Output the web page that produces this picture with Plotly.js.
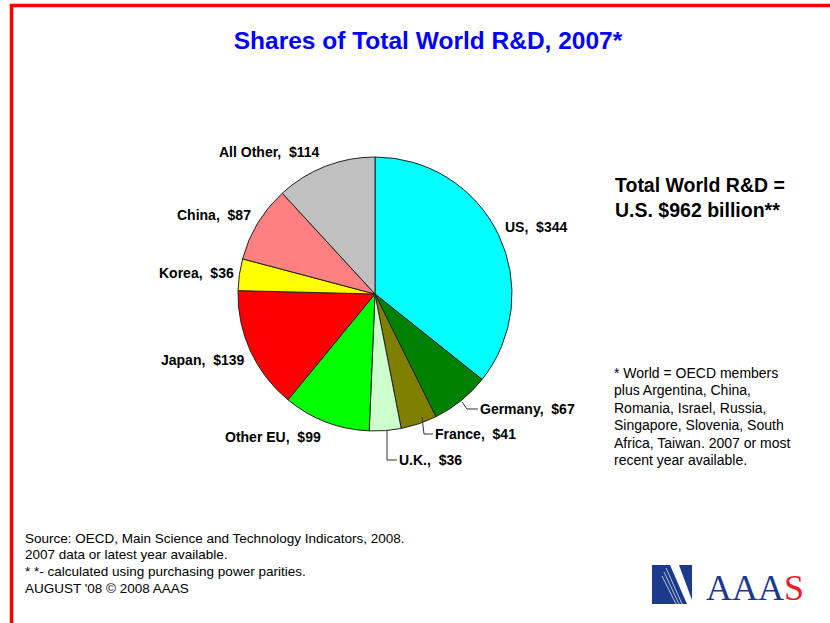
<!DOCTYPE html>
<html>
<head>
<meta charset="utf-8">
<script src="https://cdn.plot.ly/plotly-3.0.1.min.js"></script>
<style>
html,body{margin:0;padding:0;background:#fff;}
#chart{width:830px;height:623px;}
</style>
</head>
<body>
<div id="chart"></div>
<script>
// ---- data ----
const regions = ["US", "Germany", "France", "U.K.", "Other EU", "Japan", "Korea", "China", "All Other"];
const spending = [344, 67, 41, 36, 99, 139, 36, 87, 114];
const titleText = "Shares of Total World R&D, 2007*";
const totalLines = ["Total World R&D =", "U.S. $962 billion**"];
const noteLines = ["* World = OECD members", "plus Argentina, China,", "Romania, Israel, Russia,", "Singapore, Slovenia, South", "Africa, Taiwan. 2007 or most", "recent year available."];
const sourceLines = ["Source: OECD, Main Science and Technology Indicators, 2008.", "2007 data or latest year available.", "* *- calculated using purchasing power parities.", "AUGUST '08 \u00A9 2008 AAAS"];

// ---- style ----
const sliceColors = ["#00FFFF", "#008000", "#808000", "#CCFFCC", "#00FF00", "#FF0000", "#FFFF00", "#FF8080", "#C0C0C0"];
const W = 830, H = 623;
const px = x => x / W;
const py = y => 1 - y / H;
const FONT = "Liberation Sans, Arial, sans-serif";

// pie geometry (pixels)
const cx = 375, cy = 294, r = 137;

// label placements [x, y, xanchor]
const labelPos = [
  [504, 227, "left"],
  [479, 409, "left"],
  [434, 434, "left"],
  [398, 460, "left"],
  [322, 437, "right"],
  [245, 360, "right"],
  [235, 273, "right"],
  [252, 215, "right"],
  [269, 152, "center"]
];

const annotations = [];
regions.forEach((name, i) => {
  const p = labelPos[i];
  annotations.push({
    xref: "paper", yref: "paper", x: px(p[0]), y: py(p[1]),
    xanchor: p[2], yanchor: "middle", showarrow: false, borderpad: 0,
    text: name + ",\u00A0 $" + spending[i],
    font: {family: FONT, size: 14, color: "#000", weight: "bold"}
  });
});
totalLines.forEach((t, i) => {
  annotations.push({
    xref: "paper", yref: "paper", x: px(614), y: py(185 + i * 25),
    xanchor: "left", yanchor: "middle", showarrow: false, borderpad: 0,
    text: "<b>" + t + "</b>", font: {family: FONT, size: 19.5, color: "#000"}
  });
});
noteLines.forEach((t, i) => {
  annotations.push({
    xref: "paper", yref: "paper", x: px(613), y: py(373 + i * 17.4),
    xanchor: "left", yanchor: "middle", showarrow: false, borderpad: 0,
    text: t, font: {family: FONT, size: 14, color: "#000"}
  });
});
sourceLines.forEach((t, i) => {
  annotations.push({
    xref: "paper", yref: "paper", x: px(24), y: py(538 + i * 16.8),
    xanchor: "left", yanchor: "middle", showarrow: false, borderpad: 0,
    text: t, font: {family: FONT, size: 13.5, color: "#000"}
  });
});
// AAAS logo text
annotations.push({
  xref: "paper", yref: "paper", x: px(705), y: py(588),
  xanchor: "left", yanchor: "middle", showarrow: false, borderpad: 0,
  text: "<span style='color:#1B3A8C'>AAA</span><span style='color:#E8202A'>S</span>",
  font: {family: "Liberation Serif, Times New Roman, serif", size: 36, color: "#1B3A8C"}
});

function path(pts) {
  return pts.map((p, i) => (i ? "L" : "M") + px(p[0]).toFixed(5) + "," + py(p[1]).toFixed(5)).join(" ");
}

const shapes = [
  // red frame
  {type: "rect", xref: "paper", yref: "paper", x0: px(11.5), x1: 1.1, y0: -0.1, y1: py(5.5),
   line: {color: "#FF0000", width: 3.5}, fillcolor: "rgba(0,0,0,0)", layer: "above"},
  // leader lines
  {type: "path", xref: "paper", yref: "paper", path: path([[462, 402], [467, 409], [478, 409]]), line: {color: "#333", width: 1}},
  {type: "path", xref: "paper", yref: "paper", path: path([[422, 417], [424, 434], [433, 434]]), line: {color: "#333", width: 1}},
  {type: "path", xref: "paper", yref: "paper", path: path([[387, 430], [387, 460], [397, 460]]), line: {color: "#333", width: 1}},
  // logo box
  {type: "rect", xref: "paper", yref: "paper", x0: px(652), x1: px(692), y0: py(604), y1: py(565),
   fillcolor: "#1B3A8C", line: {width: 0}},
  {type: "path", xref: "paper", yref: "paper", path: path([[670, 565], [679, 565], [692, 600], [692, 604], [687, 604]]) + " Z",
   fillcolor: "#FFFFFF", line: {width: 0}},
  {type: "path", xref: "paper", yref: "paper", path: path([[662, 576], [676, 604]]), line: {color: "#FFFFFF", width: 0.7}},
  {type: "path", xref: "paper", yref: "paper", path: path([[664, 572], [679, 604]]), line: {color: "#FFFFFF", width: 0.7}},
  {type: "path", xref: "paper", yref: "paper", path: path([[666, 568], [682, 604]]), line: {color: "#FFFFFF", width: 0.7}}
];

const trace = {
  type: "pie",
  labels: regions,
  values: spending,
  sort: false,
  direction: "clockwise",
  rotation: 0,
  textinfo: "none",
  hoverinfo: "label+value",
  marker: {colors: sliceColors, line: {color: "#222", width: 1}},
  domain: {x: [px(cx - r), px(cx + r)], y: [py(cy + r), py(cy - r)]},
  showlegend: false
};

const layout = {
  width: W, height: H,
  margin: {l: 0, r: 0, t: 0, b: 0},
  paper_bgcolor: "#FFFFFF",
  plot_bgcolor: "#FFFFFF",
  title: {
    text: "<b>" + titleText + "</b>",
    x: px(428), xanchor: "center", y: py(40), yanchor: "middle",
    font: {family: FONT, size: 24.5, color: "#0000FF"}
  },
  annotations: annotations,
  shapes: shapes,
  showlegend: false
};

Plotly.newPlot("chart", [trace], layout, {displayModeBar: false, staticPlot: true});
</script>
</body>
</html>
